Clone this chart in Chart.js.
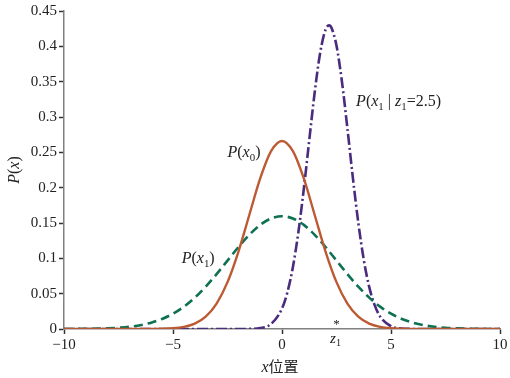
<!DOCTYPE html>
<html>
<head>
<meta charset="utf-8">
<script src="https://cdn.jsdelivr.net/npm/chart.js@4"></script>
<style>
  html, body { margin: 0; padding: 0; background: #fff; }
  #wrap { width: 510px; height: 378px; }
</style>
</head>
<body>
<div id="wrap"><canvas id="c" width="510" height="378"></canvas></div>
<script>
// x positions shared by P(x0) and P(x1)
const xs = [-10, -9.5, -9, -8.5, -8, -7.5, -7, -6.5, -6, -5.5, -5, -4.5, -4, -3.5, -3, -2.5, -2, -1.5, -1, -0.5,
  0, 0.5, 1, 1.5, 2, 2.5, 3, 3.5, 4, 4.5, 5, 5.5, 6, 6.5, 7, 7.5, 8, 8.5, 9, 9.5, 10];
const px0 = [0, 0, 0, 0, 0, 0, 0, 0, 0.0001, 0.0003, 0.001, 0.003, 0.0076, 0.0175, 0.036, 0.0663, 0.1093, 0.1613, 0.213, 0.2516,
  0.266, 0.2516, 0.213, 0.1613, 0.1093, 0.0663, 0.036, 0.0175, 0.0076, 0.003, 0.001, 0.0003, 0.0001, 0, 0, 0, 0, 0, 0, 0, 0];
const px1 = [0.0001, 0.0001, 0.0002, 0.0005, 0.001, 0.0018, 0.0032, 0.0054, 0.009, 0.0142, 0.0216, 0.0316, 0.0444, 0.0599, 0.0777, 0.0968, 0.1159, 0.1333, 0.1473, 0.1564,
  0.1596, 0.1564, 0.1473, 0.1333, 0.1159, 0.0968, 0.0777, 0.0599, 0.0444, 0.0316, 0.0216, 0.0142, 0.009, 0.0054, 0.0032, 0.0018, 0.001, 0.0005, 0.0002, 0.0001, 0.0001];

// P(x1 | z1=2.5) is narrow, so it gets its own x positions
const xsPost = [-10, -2, -1.5, -1, -0.5, 0, 0.25, 0.5, 0.75, 1, 1.25, 1.5, 1.75, 2, 2.155, 2.25, 2.5, 2.75,
  3, 3.25, 3.5, 3.75, 4, 4.25, 4.5, 5, 5.5, 6, 10];
const pPost = [0, 0, 0.0002, 0.0013, 0.0072, 0.029, 0.0523, 0.0877, 0.1367, 0.1982, 0.2672, 0.335, 0.3907, 0.4238, 0.4297, 0.4275, 0.401, 0.3499,
  0.284, 0.2143, 0.1505, 0.0982, 0.0596, 0.0337, 0.0177, 0.0039, 0.0007, 0.0001, 0];

const z1 = 2.5;
const xTicks = [-10, -5, 0, 5, 10];
const yTicks = [0, 0.05, 0.1, 0.15, 0.2, 0.25, 0.3, 0.35, 0.4, 0.45];

const SERIF = '"Liberation Serif", "DejaVu Serif", serif';
const AXIS = '#808080';

function pts(x, y) {
  return x.map((v, i) => ({ x: v, y: y[i] }));
}

// draw text runs: [text, 'i' | 'r' | 's'] (s = subscript)
function richText(ctx, runs, x, y, size) {
  let cx = x;
  runs.forEach(([t, k]) => {
    const sz = k === 's' ? size * 0.68 : size;
    ctx.font = (k === 'i' ? 'italic ' : '') + sz + 'px ' + SERIF;
    ctx.fillText(t, cx, k === 's' ? y + size * 0.22 : y);
    cx += ctx.measureText(t).width;
  });
  return cx - x;
}

const labels = {
  id: 'labels',
  afterDatasetsDraw(chart) {
    const { ctx, scales: { x, y } } = chart;
    ctx.save();
    ctx.fillStyle = '#222';
    ctx.textBaseline = 'alphabetic';
    ctx.textAlign = 'left';
    richText(ctx, [['P', 'i'], ['(', 'r'], ['x', 'i'], ['0', 's'], [')', 'r']], x.getPixelForValue(-2.5), y.getPixelForValue(0.243), 16);
    richText(ctx, [['P', 'i'], ['(', 'r'], ['x', 'i'], ['1', 's'], [')', 'r']], x.getPixelForValue(-4.6), y.getPixelForValue(0.093), 16);
    richText(ctx, [['P', 'i'], ['(', 'r'], ['x', 'i'], ['1', 's'], [' | ', 'r'], ['z', 'i'], ['1', 's'], ['=2.5)', 'r']],
      x.getPixelForValue(3.4), y.getPixelForValue(0.315), 16);

    // z1 marker on the axis
    const zx = x.getPixelForValue(z1);
    const y0 = y.getPixelForValue(0);
    ctx.font = '13px ' + SERIF;
    ctx.textAlign = 'center';
    ctx.fillText('*', zx, y0 - 1);
    ctx.textAlign = 'left';
    ctx.font = 'italic 15px ' + SERIF;
    const w = ctx.measureText('z').width + 5;
    richText(ctx, [['z', 'i'], ['1', 's']], zx - w / 2 - 1, y0 + 14, 15);

    // axis titles
    ctx.font = 'italic 16px ' + SERIF;
    const xw = ctx.measureText('x').width;
    ctx.font = '16px "Noto Sans CJK SC", sans-serif';
    const cw = ctx.measureText('位置').width;
    const sx = (x.left + x.right) / 2 - (xw + cw) / 2 - 1;
    ctx.font = 'italic 16px ' + SERIF;
    ctx.fillText('x', sx, 372);
    ctx.font = '15px "Noto Sans CJK SC", sans-serif';
    ctx.fillText('位置', sx + xw, 372);

    ctx.translate(19, (y.top + y.bottom) / 2);
    ctx.rotate(-Math.PI / 2);
    ctx.textAlign = 'left';
    ctx.font = 'italic 16px ' + SERIF;
    const tw = ctx.measureText('P(x)').width;
    richText(ctx, [['P', 'i'], ['(', 'r'], ['x', 'i'], [')', 'r']], -tw / 2, 0, 16);
    ctx.restore();
  }
};

new Chart(document.getElementById('c'), {
  type: 'line',
  data: {
    datasets: [
      {
        label: 'P(x0)',
        data: pts(xs, px0),
        borderColor: '#bb5a33',
        borderWidth: 2.4
      },
      {
        label: 'P(x1)',
        data: pts(xs, px1),
        borderColor: '#0f7153',
        borderWidth: 2.6,
        borderDash: [9, 5]
      },
      {
        label: 'P(x1 | z1=2.5)',
        data: pts(xsPost, pPost),
        borderColor: '#4a2b7e',
        borderWidth: 2.6,
        borderDash: [11, 3, 2, 3]
      }
    ]
  },
  options: {
    responsive: false,
    animation: false,
    devicePixelRatio: 1,
    layout: { padding: { top: 8, right: 10, left: 0, bottom: 0 } },
    elements: {
      point: { radius: 0 },
      line: { cubicInterpolationMode: 'monotone', fill: false }
    },
    plugins: { legend: { display: false }, tooltip: { enabled: false } },
    scales: {
      x: {
        type: 'linear',
        min: -10,
        max: 10,
        afterFit: s => { s.height = 49; },
        afterBuildTicks: s => { s.ticks = xTicks.map(v => ({ value: v })); },
        border: { color: AXIS, width: 1.5 },
        grid: { drawOnChartArea: false, color: '#333', tickLength: 5, tickWidth: 1.5 },
        ticks: {
          color: '#222',
          padding: 2,
          font: { family: SERIF, size: 15 },
          maxRotation: 0,
          callback: v => String(v).replace('-', '\u2212')
        }
      },
      y: {
        type: 'linear',
        min: 0,
        max: 0.45,
        afterFit: s => { s.width = 64; },
        afterBuildTicks: s => { s.ticks = yTicks.map(v => ({ value: v })); },
        border: { color: AXIS, width: 1.5 },
        grid: { drawOnChartArea: false, color: '#333', tickLength: 5, tickWidth: 1.5 },
        ticks: {
          color: '#222',
          padding: 2,
          font: { family: SERIF, size: 15 },
          callback: v => String(v)
        }
      }
    }
  },
  plugins: [labels]
});
</script>
</body>
</html>
